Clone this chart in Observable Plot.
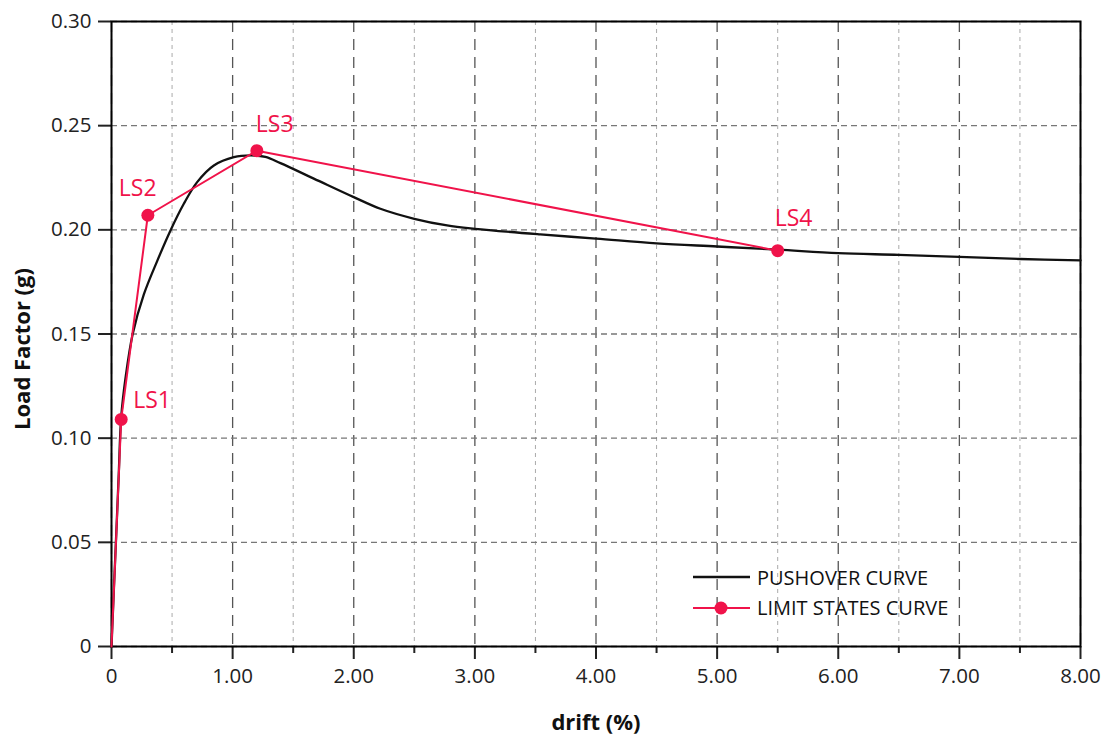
<!DOCTYPE html>
<html>
<head>
<meta charset="utf-8">
<script src="https://cdn.jsdelivr.net/npm/d3@7"></script>
<script src="https://cdn.jsdelivr.net/npm/@observablehq/plot@0.6"></script>
<style>
  html, body { margin: 0; padding: 0; background: #fff; }
  #chart { position: relative; width: 1108px; height: 738px; }
</style>
</head>
<body>
<div id="chart"></div>
<script>
// Pushover curve
const pushDrift = [0, 0.02, 0.04, 0.06, 0.08, 0.116, 0.175, 0.267, 0.377, 0.487, 0.597, 0.707, 0.845, 1.01, 1.15, 1.27, 1.395, 1.67, 2.00, 2.22, 2.50, 2.77, 3.00, 3.54, 4.00, 4.50, 5.00, 5.50, 6.00, 6.50, 7.00, 7.50, 8.00];
const pushLoad  = [0, 0.028, 0.055, 0.083, 0.110, 0.129, 0.150, 0.169, 0.185, 0.1997, 0.2125, 0.2229, 0.2309, 0.2349, 0.2357, 0.2350, 0.2320, 0.2246, 0.2157, 0.2101, 0.2053, 0.2021, 0.2005, 0.1978, 0.1958, 0.1935, 0.1920, 0.1905, 0.1888, 0.1880, 0.1870, 0.1860, 0.1853];

// Limit states curve
const lsNames = ["", "LS1", "LS2", "LS3", "LS4"];
const lsDrift = [0, 0.08, 0.30, 1.20, 5.50];
const lsLoad  = [0, 0.109, 0.207, 0.238, 0.190];

// Ticks
const xMajor = [0, 1, 2, 3, 4, 5, 6, 7, 8];
const xMinor = [0.5, 1.5, 2.5, 3.5, 4.5, 5.5, 6.5, 7.5];
const yTicks = [0, 0.05, 0.10, 0.15, 0.20, 0.25, 0.30];
const legendLabels = ["PUSHOVER CURVE", "LIMIT STATES CURVE"];
const xTitle = "drift (%)";
const yTitle = "Load Factor (g)";

const RED = "#f0134a";
const push = pushDrift.map((d, i) => ({drift: d, load: pushLoad[i]}));
const ls = lsDrift.map((d, i) => ({name: lsNames[i], drift: d, load: lsLoad[i]}));
const lsPts = ls.filter(d => d.name);
const labelOffsets = {LS1: [12, -19], LS2: [-29, -27], LS3: [-1, -26], LS4: [-3, -32]};

const fmt = d => d === 0 ? "0" : d.toFixed(2);

const labelMarks = lsPts.map(p => Plot.text([p], {
  x: "drift", y: "load", text: "name", fill: RED, fontSize: 23,
  textAnchor: "start", dx: labelOffsets[p.name][0], dy: labelOffsets[p.name][1]
}));

const chart = Plot.plot({
  width: 1108,
  height: 738,
  marginLeft: 111,
  marginRight: 28,
  marginTop: 21,
  marginBottom: 92,
  style: {fontFamily: "'Open Sans', sans-serif", fontSize: "20px", color: "#222", background: "#fff"},
  x: {domain: [0, 8]},
  y: {domain: [0, 0.3]},
  marks: [
    Plot.gridX(xMinor, {stroke: "#aaa", strokeOpacity: 1, strokeDasharray: "4,4", strokeWidth: 1}),
    Plot.gridX(xMajor, {stroke: "#555", strokeOpacity: 1, strokeDasharray: "11,7", strokeWidth: 1.3}),
    Plot.gridY(yTicks, {stroke: "#777", strokeOpacity: 1, strokeDasharray: "6,4", strokeWidth: 1.3}),
    Plot.axisX(xMajor, {tickSize: 13, tickPadding: 9, tickFormat: fmt, strokeWidth: 2, label: null, fontSize: 20.5}),
    Plot.axisX(xMinor, {tickSize: 7, tickFormat: () => "", strokeWidth: 2, label: null}),
    Plot.axisY(yTicks, {tickSize: 13, tickPadding: 7, tickFormat: fmt, strokeWidth: 2, label: null, fontSize: 20.5}),
    Plot.frame({stroke: "#000", strokeWidth: 2}),
    Plot.line(push, {x: "drift", y: "load", stroke: "#111", strokeWidth: 2.3, curve: "catmull-rom"}),
    Plot.line(ls, {x: "drift", y: "load", stroke: RED, strokeWidth: 2}),
    Plot.dot(lsPts, {x: "drift", y: "load", r: 6.5, fill: RED, stroke: "none"}),
    ...labelMarks
  ]
});

document.getElementById("chart").appendChild(chart);

// Axis titles and legend
const svg = d3.select(chart);
svg.append("text").attr("x", 596).attr("y", 730).attr("text-anchor", "middle")
  .attr("font-weight", "bold").attr("font-size", 22).attr("fill", "#111").text(xTitle);
svg.append("text").attr("transform", "translate(30,349) rotate(-90)").attr("text-anchor", "middle")
  .attr("font-weight", "bold").attr("font-size", 22).attr("fill", "#111").text(yTitle);

const lg = svg.append("g").attr("text-anchor", "start");
lg.append("line").attr("x1", 693).attr("x2", 750).attr("y1", 577).attr("y2", 577).attr("stroke", "#111").attr("stroke-width", 2.3);
lg.append("line").attr("x1", 693).attr("x2", 750).attr("y1", 608).attr("y2", 608).attr("stroke", RED).attr("stroke-width", 2);
lg.append("circle").attr("cx", 721).attr("cy", 608).attr("r", 6.5).attr("fill", RED);
lg.append("text").attr("x", 757).attr("y", 585).attr("text-anchor", "start").attr("font-size", 20).attr("fill", "#111").text(legendLabels[0]);
lg.append("text").attr("x", 757).attr("y", 615).attr("text-anchor", "start").attr("font-size", 20).attr("fill", "#111").text(legendLabels[1]);
</script>
</body>
</html>
